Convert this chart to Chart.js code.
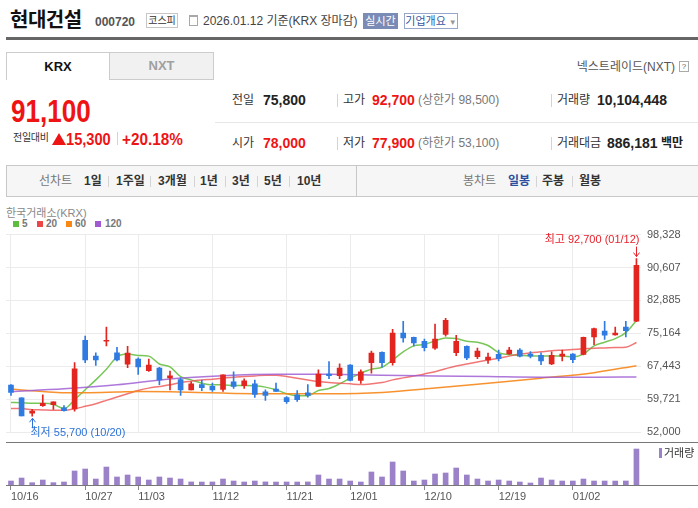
<!DOCTYPE html>
<html lang="ko">
<head>
<meta charset="utf-8">
<title>현대건설 일봉 차트</title>
<script src="https://cdn.jsdelivr.net/npm/chart.js@4.4.1/dist/chart.umd.min.js"></script>
<style>
  html, body { margin: 0; padding: 0; background: #fff; }
  body { position: relative; width: 698px; height: 508px; overflow: hidden;
         font-family: "Liberation Sans", "Noto Sans CJK KR", sans-serif; color: #333; }
  .t { position: absolute; white-space: nowrap; line-height: 1; }
  .b { font-weight: bold; }
  .red { color: #ee1414; }
  .sep { position: absolute; width: 1px; background: #d4d4d4; }
  .box { position: absolute; box-sizing: border-box; text-align: center; white-space: nowrap; }
  .k12 { font-size: 12px; }
  .n14 { font-size: 14px; font-weight: bold; color: #222; }
  .tool { font-size: 12px; font-weight: bold; color: #333; }
  .sq { position: absolute; width: 6px; height: 6px; top: 221px; }
  #pricePane { position: absolute; left: 0; top: 222px; width: 698px; height: 225px; }
  #volPane { position: absolute; left: 0; top: 440px; width: 698px; height: 68px; }
  .hline { position: absolute; height: 1px; background: #777; }
</style>
</head>
<body>

<!-- header -->
<div class="t b" style="left:10px; top:10px; font-size:20px; color:#111; letter-spacing:-0.5px;">현대건설</div>
<div class="t b" style="left:95px; top:16px; font-size:12px; color:#555;">000720</div>
<div class="box" style="left:146px; top:13px; width:32px; height:15px; border:1px solid #c6c6c6; font-size:10px; line-height:13px; color:#333;">코스피</div>
<div class="box" style="left:189px; top:15px; width:9px; height:11px; border:1px solid #a8a8a8; border-top-width:2px;"></div>
<div class="t" style="left:203px; top:15px; font-size:12px; color:#444;">2026.01.12 기준(KRX 장마감)</div>
<div class="box" style="left:363px; top:13px; width:35px; height:16px; background:#7a8bb6; color:#fff; font-size:11px; line-height:16px;">실시간</div>
<div class="box" style="left:404px; top:13px; width:54px; height:16px; border:1px solid #97a6cb; color:#34579f; font-size:11px; line-height:14px;">기업개요 <span style="color:#999; font-size:8px;">▼</span></div>
<div style="position:absolute; left:6px; top:37px; width:692px; height:3px; background:#666;"></div>

<!-- market tabs -->
<div class="box b" style="left:6px; top:52px; width:104px; height:28px; border:1px solid #ccc; border-bottom:none; background:#fff; font-size:13px; line-height:27px; color:#111;">KRX</div>
<div class="box b" style="left:109px; top:52px; width:105px; height:28px; border:1px solid #ccc; background:#f1f1f1; font-size:13px; line-height:26px; color:#a0a0a0;">NXT</div>
<div class="t" style="right:23px; top:61px; font-size:12px; color:#555;">넥스트레이드(NXT)</div>
<div class="box" style="left:679px; top:61px; width:10px; height:11px; border:1px solid #aaa; font-size:8px; line-height:9px; color:#666;">?</div>

<!-- current price -->
<div class="t b red" style="left:11px; top:96px; font-size:31px; transform:scaleX(0.84); transform-origin:left;">91,100</div>
<div class="t" style="left:13px; top:133px; font-size:10px; color:#333; letter-spacing:-0.3px;">전일대비</div>
<div style="position:absolute; left:52px; top:133px; width:0; height:0; border-left:7px solid transparent; border-right:7px solid transparent; border-bottom:12px solid #ee1414;"></div>
<div class="t b red" style="left:66px; top:131px; font-size:17px; transform:scaleX(0.86); transform-origin:left;">15,300</div>
<div class="sep" style="left:117px; top:132px; height:13px;"></div>
<div class="t b red" style="left:122px; top:131px; font-size:17px; transform:scaleX(0.9); transform-origin:left;">+20.18%</div>

<!-- day summary -->
<div class="t k12" style="left:232px; top:94px;">전일</div>
<div class="t n14" style="left:263px; top:93px;">75,800</div>
<div class="sep" style="left:337px; top:94px; height:13px;"></div>
<div class="t k12" style="left:343px; top:94px;">고가</div>
<div class="t n14 red" style="left:372px; top:93px; color:#ee1414;">92,700</div>
<div class="t k12" style="left:418px; top:94px; color:#777;">(상한가 98,500)</div>
<div class="sep" style="left:551px; top:94px; height:13px;"></div>
<div class="t k12" style="left:557px; top:94px;">거래량</div>
<div class="t n14" style="left:597px; top:93px;">10,104,448</div>

<div style="position:absolute; left:215px; top:122px; width:483px; height:1px; background:#e6e6e6;"></div>

<div class="t k12" style="left:232px; top:137px;">시가</div>
<div class="t n14" style="left:263px; top:136px; color:#ee1414;">78,000</div>
<div class="sep" style="left:337px; top:137px; height:13px;"></div>
<div class="t k12" style="left:343px; top:137px;">저가</div>
<div class="t n14" style="left:372px; top:136px; color:#ee1414;">77,900</div>
<div class="t k12" style="left:418px; top:137px; color:#777;">(하한가 53,100)</div>
<div class="sep" style="left:551px; top:137px; height:13px;"></div>
<div class="t k12" style="left:557px; top:137px;">거래대금</div>
<div class="t n14" style="left:607px; top:136px;">886,181</div>
<div class="t k12 b" style="left:661px; top:137px; color:#222;">백만</div>

<!-- period toolbar -->
<div class="box" style="left:6px; top:165px; width:692px; height:32px; background:#f6f6f6; border:1px solid #c8c8c8; border-right:none;"></div>
<div class="sep" style="left:356px; top:165px; height:32px; background:#c8c8c8;"></div>
<div class="t" style="left:39px; top:175px; font-size:12px; color:#777;">선차트</div>
<div class="t tool" style="left:84px; top:175px;">1일</div>
<div class="sep" style="left:108px; top:176px; height:11px;"></div>
<div class="t tool" style="left:116px; top:175px;">1주일</div>
<div class="sep" style="left:150px; top:176px; height:11px;"></div>
<div class="t tool" style="left:158px; top:175px;">3개월</div>
<div class="sep" style="left:194px; top:176px; height:11px;"></div>
<div class="t tool" style="left:200px; top:175px;">1년</div>
<div class="sep" style="left:225px; top:176px; height:11px;"></div>
<div class="t tool" style="left:232px; top:175px;">3년</div>
<div class="sep" style="left:257px; top:176px; height:11px;"></div>
<div class="t tool" style="left:264px; top:175px;">5년</div>
<div class="sep" style="left:289px; top:176px; height:11px;"></div>
<div class="t tool" style="left:297px; top:175px;">10년</div>
<div class="t" style="left:463px; top:175px; font-size:12px; color:#777;">봉차트</div>
<div class="t tool" style="left:508px; top:175px; color:#2b4f9e;">일봉</div>
<div class="sep" style="left:536px; top:176px; height:11px;"></div>
<div class="t tool" style="left:542px; top:175px;">주봉</div>
<div class="sep" style="left:572px; top:176px; height:11px;"></div>
<div class="t tool" style="left:579px; top:175px;">월봉</div>

<!-- chart header -->
<div class="t" style="left:6px; top:208px; font-size:11px; color:#888;">한국거래소(KRX)</div>
<div class="sq" style="left:13px; background:#5cbd3e;"></div>
<div class="t b" style="left:22px; top:219px; font-size:10px; color:#777;">5</div>
<div class="sq" style="left:37px; background:#ec4646;"></div>
<div class="t b" style="left:46px; top:219px; font-size:10px; color:#777;">20</div>
<div class="sq" style="left:66px; background:#f88714;"></div>
<div class="t b" style="left:75px; top:219px; font-size:10px; color:#777;">60</div>
<div class="sq" style="left:95px; background:#a05ad2;"></div>
<div class="t b" style="left:105px; top:219px; font-size:10px; color:#777;">120</div>

<div id="pricePane"><canvas id="priceChart"></canvas></div>
<div id="volPane"><canvas id="volumeChart"></canvas></div>

<div class="hline" style="left:6px; top:442px; width:692px;"></div>
<div class="hline" style="left:6px; top:485px; width:692px;"></div>
<div style="position:absolute; left:659px; top:448px; width:3px; height:10px; background:#9b82c8;"></div>
<div class="t" style="left:664px; top:448px; font-size:11px; color:#333;">거래량</div>

<script>
    // --- 1. Daily candles (KRX) ---

    const dates = ['10/16','10/17','10/20','10/21','10/22','10/23','10/24','10/27','10/28','10/29',
                   '10/30','10/31','11/03','11/04','11/05','11/06','11/07','11/10','11/11','11/12',
                   '11/13','11/14','11/17','11/18','11/19','11/20','11/21','11/24','11/25','11/26',
                   '11/27','11/28','12/01','12/02','12/03','12/04','12/05','12/08','12/09','12/10',
                   '12/11','12/12','12/15','12/16','12/17','12/18','12/19','12/22','12/23','12/24',
                   '12/26','12/29','12/30','01/02','01/05','01/06','01/07','01/08','01/09','01/12'];

    const opens  = [63000,60000,56400,58200,58400,57700,57400,73500,69800,73300,
                    70600,67900,69100,66400,67000,64700,64300,61900,63100,62700,
                    62000,63800,62900,63300,61400,62100,60100,60700,61200,62700,
                    65600,65200,67700,64100,68300,70700,68300,75200,74200,73300,
                    71700,74900,70600,72100,69700,68900,70200,70300,71200,70300,
                    70000,68000,69800,70300,70200,74300,75700,74800,76600,78000];
    const highs  = [63100,60000,57300,60700,59100,58200,68300,74500,70600,76600,
                    71900,72100,69400,69100,67200,66300,64700,63800,64200,63500,
                    65400,66100,64500,64200,61900,63500,60300,61700,63100,66600,
                    68500,68000,67800,66600,71000,70800,76100,78000,74300,73800,
                    77300,78700,74700,72200,71700,70500,71200,71900,71600,70900,
                    70600,70800,71200,70400,74300,76400,78000,76600,78000,92700];
    const lows   = [60600,55800,55700,58000,57300,56900,56900,68300,67600,72200,
                    68700,67100,65500,66200,63100,61900,60600,61900,61700,61500,
                    61500,62200,62200,60100,59400,61500,58700,59200,60200,62700,
                    64500,64500,64000,63400,65800,67200,67700,73100,72200,71000,
                    71400,74500,69900,69000,69200,68100,68700,70200,69600,69400,
                    67800,67800,68700,68300,70100,72500,73700,74700,74300,77900];
    const closes = [61300,55800,56900,58700,59100,57000,66800,68900,68900,73500,
                    68900,70500,67300,67700,64200,65200,61900,63300,62400,61900,
                    65400,62700,64000,60800,60600,61500,59100,59600,60600,65600,
                    65200,67000,64100,66100,70500,68300,75200,74100,72900,71800,
                    73800,78200,73300,69400,71000,69600,69200,71200,69800,69800,
                    68700,70000,70300,69000,74200,76300,74700,75200,75800,91100];

    const volumes = [1120000,1960000,650000,1400000,660000,840000,3930000,4490000,1680000,5050000,
                     2250000,2810000,2250000,1400000,2250000,1960000,1680000,860000,830000,850000,
                     1680000,1120000,840000,1120000,870000,830000,850000,840000,860000,2810000,
                     1680000,1680000,1120000,840000,3650000,2250000,6460000,3930000,1120000,1400000,
                     3090000,3370000,4770000,2810000,1680000,1120000,1400000,1120000,840000,560000,
                     1960000,1400000,1120000,1120000,1680000,1120000,1120000,1110000,1130000,10104448];

    // moving averages, read at each candle (5, 20) or at sample candles (60, 120)
    const ma5  = [58950,58880,58720,58720,58490,57490,59580,61910,64230,66720,
                  69650,70280,69980,69810,67950,67260,65000,64230,63460,63070,
                  63070,62910,62910,62840,62530,61910,60980,60510,60510,61740,
                  62210,63300,64630,65790,66720,67190,68880,70810,72210,72540,
                  73370,74070,73930,73300,73070,72300,70630,70120,69980,69880,
                  69810,69810,69810,69650,70280,72210,73070,73930,75330,78190];
    const ma20 = [57490,57490,57250,57180,57090,57090,57420,58020,58650,59420,
                  60210,60980,61740,62300,62670,63070,63600,63930,64230,64400,
                  64630,64860,65000,65160,65330,65330,65000,64630,64230,63840,
                  63600,63460,63300,63140,63300,63600,64230,64700,65160,65630,
                  66160,66860,67490,67950,68420,68880,69300,69810,70280,70580,
                  70810,71050,71210,71370,71510,71680,71740,71840,71910,73000];
    const ma60Idx  = [0, 3, 5, 7, 10, 12, 15, 20, 25, 30, 35, 40, 45, 50, 55, 59];
    const ma60     = [62070,61510,61210,61210,61370,61510,61440,61140,60980,60980,61280,62300,63460,64630,65930,67560];
    const ma120Idx = [0, 5, 10, 15, 20, 25, 30, 35, 40, 45, 50, 55, 59];
    const ma120    = [61510,62140,63070,64460,65230,65560,65560,65330,65160,65000,64860,64860,64930];

    // axes
    const xTickDates = ['10/16','10/27','11/03','11/12','11/21','12/01','12/10','12/19','01/02'];
    const priceTicks = [52000, 59721, 67443, 75164, 82885, 90607, 98328];
    const priceMin = 52000, priceMax = 98328;
    const volumeMax = 11230000;


    // --- 2. Shared helpers ---

    const UP = '#e2261f', DOWN = '#2f7be2';
    const candleColor = (i) => closes[i] >= opens[i] ? UP : DOWN;
    const fmt = (n) => n.toLocaleString('en-US');
    const xIdx = xTickDates.map(d => dates.indexOf(d));
    const xMin = -0.47, xMax = 59.43;
    const fontFamily = '"Liberation Sans", "Noto Sans CJK KR", sans-serif';
    const axisFont = { family: fontFamily, size: 11 };

    // 최고 / 최저 markers
    const extremeLabels = {
        id: 'extremeLabels',
        afterDraw(chart) {
            const { ctx, scales: { x, y } } = chart;
            const hi = highs.indexOf(Math.max(...highs));
            const lo = lows.indexOf(Math.min(...lows));
            ctx.save();
            ctx.font = '11px ' + fontFamily;
            ctx.lineWidth = 1;

            const hx = Math.round(x.getPixelForValue(hi)) + 0.5, hy = y.getPixelForValue(highs[hi]);
            ctx.fillStyle = ctx.strokeStyle = '#e8202a';
            ctx.textAlign = 'right';
            ctx.textBaseline = 'middle';
            ctx.fillText('최고 ' + fmt(highs[hi]) + ' (' + dates[hi] + ')', hx + 3, hy - 19);
            ctx.beginPath();
            ctx.moveTo(hx, hy - 12); ctx.lineTo(hx, hy - 2);
            ctx.moveTo(hx - 3, hy - 6); ctx.lineTo(hx, hy - 2); ctx.lineTo(hx + 3, hy - 6);
            ctx.stroke();

            const lx = Math.round(x.getPixelForValue(lo)) + 0.5, ly = y.getPixelForValue(lows[lo]);
            ctx.fillStyle = ctx.strokeStyle = '#2d72d9';
            ctx.textAlign = 'left';
            ctx.fillText('최저 ' + fmt(lows[lo]) + ' (' + dates[lo] + ')', lx - 2, ly + 17);
            ctx.beginPath();
            ctx.moveTo(lx, ly + 12); ctx.lineTo(lx, ly + 2);
            ctx.moveTo(lx - 3, ly + 6); ctx.lineTo(lx, ly + 2); ctx.lineTo(lx + 3, ly + 6);
            ctx.stroke();
            ctx.restore();
        }
    };


    // --- 3. Price pane: candles + moving averages ---

    const maLine = (label, color, points) => ({
        type: 'line',
        label: label,
        data: points,
        borderColor: color,
        borderWidth: 1.5,
        pointRadius: 0,
        cubicInterpolationMode: 'monotone',
        order: 3
    });

    new Chart(document.getElementById('priceChart'), {
        type: 'bar',
        data: {
            datasets: [
                {
                    label: 'body',
                    data: dates.map((d, i) => ({ x: i, y: [opens[i], closes[i]] })),
                    backgroundColor: dates.map((d, i) => candleColor(i)),
                    barThickness: 5,
                    minBarLength: 1,
                    grouped: false,
                    order: 1
                },
                {
                    label: 'wick',
                    data: dates.map((d, i) => ({ x: i, y: [lows[i], highs[i]] })),
                    backgroundColor: dates.map((d, i) => candleColor(i)),
                    barThickness: 1,
                    grouped: false,
                    order: 2
                },
                maLine('120', 'rgba(160, 95, 212, 0.85)', ma120.map((v, k) => ({ x: ma120Idx[k], y: v }))),
                maLine('60', 'rgba(246, 134, 24, 0.9)', ma60.map((v, k) => ({ x: ma60Idx[k], y: v }))),
                maLine('20', 'rgba(238, 84, 84, 0.8)', ma20.map((v, i) => ({ x: i, y: v }))),
                maLine('5', 'rgba(106, 192, 70, 0.9)', ma5.map((v, i) => ({ x: i, y: v })))
            ]
        },
        options: {
            responsive: true,
            maintainAspectRatio: false,
            animation: false,
            events: [],
            layout: { padding: { left: 6, top: 11, bottom: 15, right: 0 } },
            scales: {
                x: {
                    type: 'linear',
                    min: xMin,
                    max: xMax,
                    offset: false,
                    afterBuildTicks: (s) => { s.ticks = xIdx.map(v => ({ value: v })); },
                    afterFit: (s) => { s.height = 0; },
                    ticks: { display: false },
                    grid: { color: '#ebebeb', drawTicks: false, offset: false },
                    border: { display: false }
                },
                y: {
                    position: 'right',
                    min: priceMin,
                    max: priceMax,
                    afterBuildTicks: (s) => { s.ticks = priceTicks.map(v => ({ value: v })); },
                    afterFit: (s) => { s.width = 57; },
                    ticks: { padding: 6, color: '#555', font: axisFont, callback: (v) => fmt(v) },
                    grid: { color: '#ebebeb', drawTicks: false },
                    border: { display: false }
                }
            },
            plugins: { legend: { display: false }, tooltip: { enabled: false } }
        },
        plugins: [extremeLabels]
    });


    // --- 4. Volume pane ---

    new Chart(document.getElementById('volumeChart'), {
        type: 'bar',
        data: {
            datasets: [{
                label: '거래량',
                data: volumes.map((v, i) => ({ x: i, y: v })),
                backgroundColor: '#9b82c8',
                barThickness: 5,
                grouped: false
            }]
        },
        options: {
            responsive: true,
            maintainAspectRatio: false,
            animation: false,
            events: [],
            layout: { padding: { left: 6, top: 5, bottom: 0, right: 57 } },
            scales: {
                x: {
                    type: 'linear',
                    min: xMin,
                    max: xMax,
                    offset: false,
                    afterBuildTicks: (s) => { s.ticks = xIdx.map(v => ({ value: v })); },
                    afterFit: (s) => { s.height = 23; },
                    ticks: {
                        align: 'start',
                        padding: 0,
                        maxRotation: 0,
                        autoSkip: false,
                        color: '#555',
                        font: axisFont,
                        callback: (v) => dates[v]
                    },
                    grid: { drawOnChartArea: false, offset: false, tickLength: 5, color: '#888' },
                    border: { display: false }
                },
                y: { display: false, min: 0, max: volumeMax }
            },
            plugins: { legend: { display: false }, tooltip: { enabled: false } }
        }
    });
</script>
</body>
</html>
